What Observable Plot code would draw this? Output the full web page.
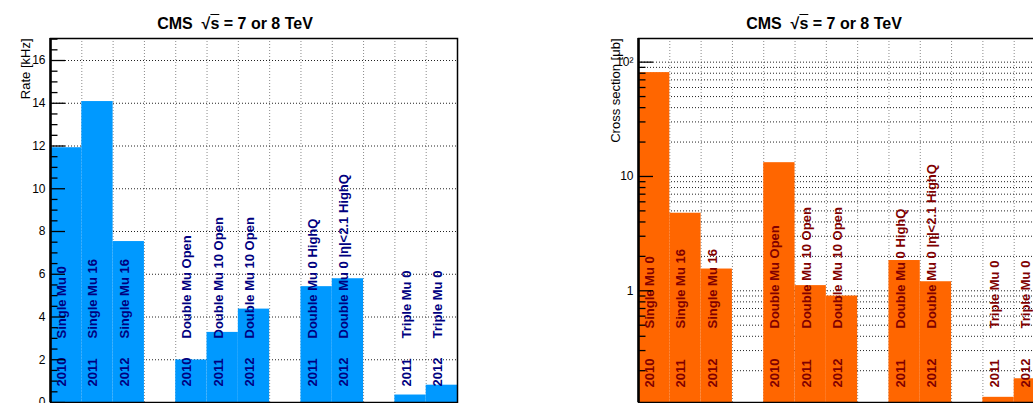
<!DOCTYPE html>
<html>
<head>
<meta charset="utf-8">
<script src="https://cdn.jsdelivr.net/npm/d3@7"></script>
<script src="https://cdn.jsdelivr.net/npm/@observablehq/plot@0.6"></script>
<style>
html, body { margin: 0; padding: 0; background: #fff; overflow: hidden; width: 1033px; height: 403px; }
#wrap { position: relative; width: 1033px; height: 403px; overflow: hidden; font-family: "Liberation Sans", Arial, sans-serif; }
.panel { position: absolute; top: 0; height: 403px; }
.panel svg { max-width: none !important; display: block; }
.title { position: absolute; top: 15.5px; line-height: 16px; font-size: 16px; font-weight: bold; white-space: nowrap; transform: translateX(-50%); color: #000; }
.ov { text-decoration: overline; }
</style>
</head>
<body>
<div id="wrap">
  <div class="panel" id="left" style="left:0px; width:470px"></div>
  <div class="panel" id="right" style="left:520px; width:538px"></div>
  <div class="title" style="left:235px">CMS&nbsp; √<span class="ov">s</span> = 7 or 8 TeV</div>
  <div class="title" style="left:824px">CMS&nbsp; √<span class="ov">s</span> = 7 or 8 TeV</div>
</div>
<script>
// ---- data ----
const triggers = ["Single Mu 0", "Single Mu 16", "Single Mu 16", "", "Double Mu Open", "Double Mu 10 Open", "Double Mu 10 Open", "", "Double Mu 0 HighQ", "Double Mu 0 |η|<2.1 HighQ", "", "Triple Mu 0", "Triple Mu 0"];
const years = ["2010", "2011", "2012", "", "2010", "2011", "2012", "", "2011", "2012", "", "2011", "2012"];
const rates = [11.92, 14.08, 7.53, null, 1.99, 3.28, 4.37, null, 5.42, 5.79, null, 0.35, 0.81];   // kHz
const xsec = [81, 4.77, 1.55, null, 13.2, 1.11, 0.90, null, 1.84, 1.20, null, 0.117, 0.170];      // μb
const rateTicks = [0, 2, 4, 6, 8, 10, 12, 14, 16];
const xsecTickLabels = [[100, "10²"], [10, "10"], [1, "1"]];

const nBins = triggers.length;
const rows = (vals) => triggers.map((t, i) => ({i, trigger: t, year: years[i], v: vals[i]})).filter(d => d.v != null);
const edges = d3.range(1, nBins);
const font = "'Liberation Sans', Arial, sans-serif";

function panel({vals, yScale, yDomain, majors, minors, grid, tickLabels, ylabel, fill, labelColor, width, marginLeft, labelDx, yearDy, nameDy}) {
  const marginRight = 13, marginTop = 38, marginBottom = 1, height = 403;
  const inner = width - marginLeft - marginRight;
  const data = rows(vals);
  return Plot.plot({
    width, height, marginLeft, marginRight, marginTop, marginBottom,
    style: {fontFamily: font, background: "transparent", overflow: "visible", maxWidth: "none"},
    x: {domain: [0, nBins], axis: null},
    y: {type: yScale, domain: yDomain, axis: null},
    marks: [
      Plot.ruleX(edges, {x: d => d, stroke: "#8a8a8a", strokeDasharray: "1,2", strokeWidth: 1}),
      Plot.ruleY(grid, {y: d => d, stroke: "#222", strokeDasharray: "1,2", strokeWidth: 1}),
      Plot.rect(data, {x1: d => d.i, x2: d => d.i + 1, y1: yDomain[0], y2: d => d.v, fill, clip: true}),
      Plot.text(data, {x: d => d.i + 0.5, text: "year", frameAnchor: "bottom", dy: yearDy, rotate: -90, textAnchor: "start", fill: labelColor, fontWeight: "bold", fontSize: 13}),
      Plot.text(data, {x: d => d.i + 0.5, text: "trigger", frameAnchor: "bottom", dy: nameDy, rotate: -90, textAnchor: "start", fill: labelColor, fontWeight: "bold", fontSize: 13}),
      Plot.ruleY(minors, {y: d => d, insetRight: inner - 7.5, stroke: "#000", strokeWidth: 1.3}),
      Plot.ruleY(majors, {y: d => d, insetRight: inner - 15, stroke: "#000", strokeWidth: 1.3}),
      Plot.frame({stroke: "#000", strokeWidth: 1.5}),
      Plot.ruleX([0], {x: d => d, stroke: "#000", strokeWidth: 2.5}),
      Plot.text(tickLabels, {y: d => d[0], text: d => d[1], frameAnchor: "left", dx: -5, textAnchor: "end", fontSize: 12, fill: "#000"}),
      Plot.text([ylabel], {frameAnchor: "top-left", dx: labelDx, rotate: -90, textAnchor: "end", fontSize: 13, fill: "#000"})
    ]
  });
}

// left: rate, linear
const leftMinors = d3.range(0, 17.01, 0.5).filter(v => v % 2 !== 0);
document.getElementById("left").append(panel({
  vals: rates, yScale: "linear", yDomain: [0, 17.03],
  majors: rateTicks, minors: leftMinors, grid: rateTicks,
  tickLabels: rateTicks.map(v => [v, String(v)]),
  ylabel: "Rate [kHz]", fill: "#0099ff", labelColor: "#000080",
  width: 470, marginLeft: 50, labelDx: -30, yearDy: -16, nameDy: -64
}));

// right: cross section, log
const logMajors = [1, 10, 100];
const logMinors = [];
for (const dec of [0.1, 1, 10]) for (let k = 2; k <= 9; k++) logMinors.push(+(dec * k).toPrecision(3));
document.getElementById("right").append(panel({
  vals: xsec, yScale: "log", yDomain: [0.1054, 161],
  majors: logMajors, minors: logMinors, grid: logMajors.concat(logMinors),
  tickLabels: xsecTickLabels,
  ylabel: "Cross section [μb]", fill: "#ff6600", labelColor: "#800000",
  width: 538, marginLeft: 118, labelDx: -28, yearDy: -15, nameDy: -74
}));
</script>
</body>
</html>
